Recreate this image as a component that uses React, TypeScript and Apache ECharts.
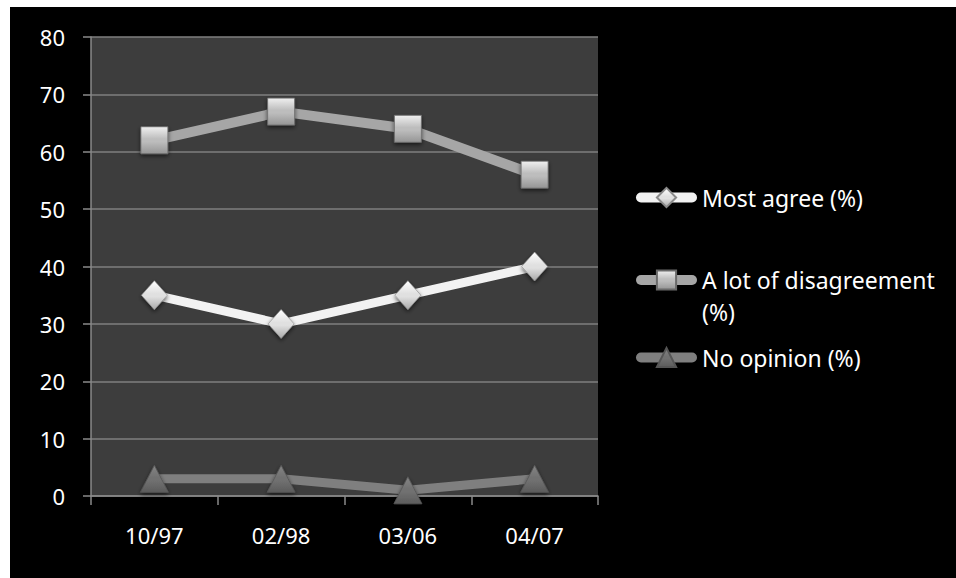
import React, { useEffect, useRef } from "react";
import * as echarts from "echarts";

const categories = ["10/97", "02/98", "03/06", "04/07"];
const mostAgree = [35, 30, 35, 40];
const disagreement = [62, 67, 64, 56];
const noOpinion = [3, 3, 1, 3];
const yTicks = { min: 0, max: 80, interval: 10 };

const FONT = "Noto Sans";

function grad(top: string, mid: string, bottom: string) {
  return new echarts.graphic.LinearGradient(0, 0, 0, 1, [
    { offset: 0, color: top },
    { offset: 0.45, color: mid },
    { offset: 0.55, color: mid },
    { offset: 1, color: bottom },
  ]);
}

export default function App() {
  const ref = useRef<HTMLDivElement>(null);
  useEffect(() => {
    if (!ref.current) return;
    const chart = echarts.init(ref.current, null, { renderer: "svg" });
    const symShadow = {
      shadowBlur: 4,
      shadowColor: "rgba(0,0,0,0.6)",
      shadowOffsetY: 2,
    };
    const legendText = { color: "#ffffff", fontFamily: FONT, fontSize: 23, padding: [0, 0, 0, 5] };
    const legendBase = {
      left: 626,
      orient: "vertical",
      padding: 0,
      itemWidth: 51,
      itemHeight: 24,
      lineStyle: { width: 10, cap: "round" },
      textStyle: legendText,
    };
    chart.setOption({
      animation: false,
      backgroundColor: "#000000",
      grid: {
        left: 81,
        top: 30,
        width: 507,
        height: 459,
        show: true,
        backgroundColor: "#3d3d3d",
        borderWidth: 0,
        containLabel: false,
      },
      xAxis: {
        type: "category",
        data: categories,
        boundaryGap: true,
        axisLine: { show: true, lineStyle: { color: "#8a8a8a", width: 1.5 } },
        axisTick: { show: true, length: 9, alignWithLabel: false, lineStyle: { color: "#8a8a8a", width: 1.5 } },
        axisLabel: { color: "#ffffff", fontFamily: FONT, fontSize: 22, margin: 28 },
        splitLine: { show: false },
      },
      yAxis: {
        type: "value",
        min: yTicks.min,
        max: yTicks.max,
        interval: yTicks.interval,
        axisLine: { show: true, lineStyle: { color: "#8a8a8a", width: 1.5 } },
        axisTick: { show: true, length: 8, lineStyle: { color: "#8a8a8a", width: 1.5 } },
        axisLabel: { color: "#ffffff", fontFamily: FONT, fontSize: 22, margin: 26 },
        splitLine: { show: true, lineStyle: { color: "#7f7f7f", width: 1.5 } },
      },
      legend: [
        { ...legendBase, data: ["Most agree (%)"], top: 179 },
        {
          ...legendBase,
          data: ["A lot of disagreement (%)"],
          top: 225,
          formatter: () => " \nA lot of disagreement\n(%)",
          textStyle: { ...legendText, lineHeight: 32 },
        },
        { ...legendBase, data: ["No opinion (%)"], top: 339 },
      ],
      series: [
        {
          name: "No opinion (%)",
          type: "line",
          data: noOpinion,
          symbol: "triangle",
          symbolSize: [28, 27],
          lineStyle: { color: "#7f7f7f", width: 9, cap: "round", join: "round" },
          itemStyle: {
            color: grad("#858585", "#717171", "#5c5c5c"),
            borderColor: "#555555",
            borderWidth: 0.8,
            ...symShadow,
          },
        },
        {
          name: "A lot of disagreement (%)",
          type: "line",
          data: disagreement,
          symbol: "rect",
          symbolSize: 27,
          lineStyle: { color: "#a6a6a6", width: 10, cap: "round", join: "round" },
          itemStyle: {
            color: grad("#f0f0f0", "#bdbdbd", "#959595"),
            borderColor: "#6a6a6a",
            borderWidth: 0.8,
            ...symShadow,
          },
        },
        {
          name: "Most agree (%)",
          type: "line",
          data: mostAgree,
          symbol: "diamond",
          symbolSize: [26, 29],
          lineStyle: { color: "#f2f2f2", width: 9, cap: "round", join: "round" },
          itemStyle: {
            color: grad("#ffffff", "#e0e0e0", "#a8a8a8"),
            borderColor: "#8a8a8a",
            borderWidth: 0.6,
            ...symShadow,
          },
        },
      ],
    });
    return () => chart.dispose();
  }, []);
  return (
    <div
      ref={ref}
      style={{ position: "fixed", left: 10, top: 7, width: 946, height: 571, background: "#000" }}
    />
  );
}
